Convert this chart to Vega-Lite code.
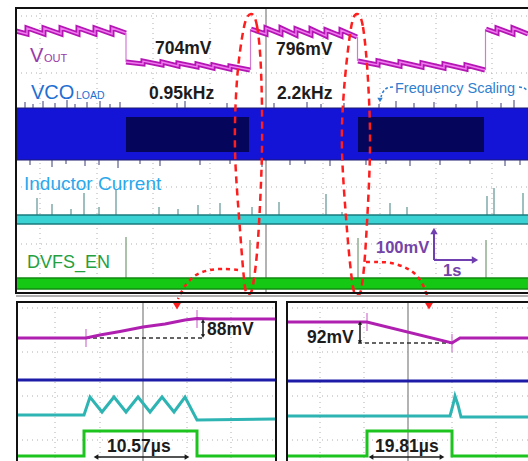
{
"$schema":"https://vega.github.io/schema/vega-lite/v6.json",
"width":528,"height":461,"padding":0,"autosize":{"type":"none"},
"background":"#ffffff",
"config":{"view":{"stroke":null}},
"datasets":{
"hgrid":[{"x":16,"x2":528,"y":16},{"x":16,"x2":528,"y":73},{"x":16,"x2":528,"y":187},{"x":16,"x2":528,"y":244},{"x":17,"x2":276,"y":308},{"x":17,"x2":276,"y":352},{"x":17,"x2":276,"y":396},{"x":17,"x2":276,"y":440},{"x":287,"x2":528,"y":308},{"x":287,"x2":528,"y":352},{"x":287,"x2":528,"y":396},{"x":287,"x2":528,"y":440}],
"vgrid":[{"x":40,"y":8,"y2":293},{"x":97,"y":8,"y2":293},{"x":153,"y":8,"y2":293},{"x":210,"y":8,"y2":293},{"x":323,"y":8,"y2":293},{"x":380,"y":8,"y2":293},{"x":436,"y":8,"y2":293},{"x":492,"y":8,"y2":293},{"x":55,"y":302,"y2":461},{"x":100,"y":302,"y2":461},{"x":187,"y":302,"y2":461},{"x":231,"y":302,"y2":461},{"x":320,"y":302,"y2":461},{"x":364,"y":302,"y2":461},{"x":452,"y":302,"y2":461},{"x":496,"y":302,"y2":461}],
"center":[{"x":266,"y":8,"y2":293},{"x":143,"y":302,"y2":461},{"x":408,"y":302,"y2":461}],
"vcoSpikes":[{"x":25,"y":102,"y2":108},{"x":33,"y":104,"y2":108},{"x":43,"y":101,"y2":108},{"x":55,"y":103,"y2":108},{"x":67,"y":100,"y2":108},{"x":75,"y":104,"y2":108},{"x":87,"y":102,"y2":108},{"x":100,"y":101,"y2":108},{"x":110,"y":104,"y2":108},{"x":120,"y":102,"y2":108},{"x":177,"y":103,"y2":108},{"x":185,"y":101,"y2":108},{"x":227,"y":103,"y2":108},{"x":274,"y":103,"y2":108},{"x":307,"y":102,"y2":108},{"x":321,"y":104,"y2":108},{"x":344,"y":103,"y2":108},{"x":379,"y":104,"y2":108},{"x":396,"y":101,"y2":108},{"x":414,"y":103,"y2":108},{"x":434,"y":102,"y2":108},{"x":456,"y":104,"y2":108},{"x":477,"y":101,"y2":108},{"x":501,"y":103,"y2":108},{"x":514,"y":100,"y2":108},{"x":30,"y":160,"y2":165},{"x":52,"y":160,"y2":167},{"x":66,"y":160,"y2":164},{"x":85,"y":160,"y2":166},{"x":99,"y":160,"y2":165},{"x":118,"y":160,"y2":168},{"x":140,"y":160,"y2":164},{"x":160,"y":160,"y2":166},{"x":200,"y":160,"y2":165},{"x":230,"y":160,"y2":164},{"x":262,"y":160,"y2":167},{"x":290,"y":160,"y2":165},{"x":305,"y":160,"y2":164},{"x":330,"y":160,"y2":166},{"x":366,"y":160,"y2":165},{"x":386,"y":160,"y2":164},{"x":410,"y":160,"y2":166},{"x":440,"y":160,"y2":165},{"x":470,"y":160,"y2":164},{"x":505,"y":160,"y2":166},{"x":520,"y":160,"y2":165}],
"indSpikes":[{"x":37,"y":198,"y2":215},{"x":52,"y":204,"y2":215},{"x":71,"y":209,"y2":215},{"x":84,"y":193,"y2":215},{"x":99,"y":207,"y2":215},{"x":116,"y":189,"y2":215},{"x":159,"y":207,"y2":215},{"x":178,"y":209,"y2":215},{"x":198,"y":205,"y2":215},{"x":220,"y":203,"y2":215},{"x":252,"y":207,"y2":215},{"x":279,"y":202,"y2":215},{"x":326,"y":194,"y2":215},{"x":342,"y":212,"y2":215},{"x":390,"y":203,"y2":215},{"x":407,"y":207,"y2":215},{"x":487,"y":196,"y2":215},{"x":494,"y":188,"y2":215},{"x":523,"y":193,"y2":215}],
"dvfsSpikes":[{"x":126,"y":237,"y2":278},{"x":250,"y":240,"y2":278},{"x":358,"y":238,"y2":278},{"x":486,"y":240,"y2":278}],
"vout":[
{"s":"A","i":1,"x":16,"y":31},{"s":"A","i":2,"x":27,"y":34},{"s":"A","i":3,"x":27,"y":28},{"s":"A","i":4,"x":44,"y":34},{"s":"A","i":5,"x":44,"y":28},{"s":"A","i":6,"x":61,"y":34},{"s":"A","i":7,"x":61,"y":28},{"s":"A","i":8,"x":78,"y":34},{"s":"A","i":9,"x":78,"y":28},{"s":"A","i":10,"x":95,"y":34},{"s":"A","i":11,"x":95,"y":28},{"s":"A","i":12,"x":112,"y":34},{"s":"A","i":13,"x":112,"y":28},{"s":"A","i":14,"x":126,"y":33},
{"s":"B","i":1,"x":126,"y":62},{"s":"B","i":2,"x":143,"y":64},{"s":"B","i":3,"x":143,"y":61},{"s":"B","i":4,"x":162,"y":65},{"s":"B","i":5,"x":162,"y":62},{"s":"B","i":6,"x":178,"y":66},{"s":"B","i":7,"x":178,"y":63},{"s":"B","i":8,"x":197,"y":67},{"s":"B","i":9,"x":197,"y":64},{"s":"B","i":10,"x":213,"y":68},{"s":"B","i":11,"x":213,"y":65},{"s":"B","i":12,"x":230,"y":69},{"s":"B","i":13,"x":230,"y":66},{"s":"B","i":14,"x":250,"y":70},
{"s":"C","i":1,"x":251,"y":29},{"s":"C","i":2,"x":266,"y":34},{"s":"C","i":3,"x":266,"y":28},{"s":"C","i":4,"x":281,"y":34},{"s":"C","i":5,"x":281,"y":28},{"s":"C","i":6,"x":296,"y":35},{"s":"C","i":7,"x":296,"y":29},{"s":"C","i":8,"x":311,"y":35},{"s":"C","i":9,"x":311,"y":29},{"s":"C","i":10,"x":326,"y":36},{"s":"C","i":11,"x":326,"y":30},{"s":"C","i":12,"x":341,"y":36},{"s":"C","i":13,"x":341,"y":30},{"s":"C","i":14,"x":357,"y":37},
{"s":"D","i":1,"x":358,"y":61},{"s":"D","i":2,"x":378,"y":65},{"s":"D","i":3,"x":378,"y":61},{"s":"D","i":4,"x":400,"y":66},{"s":"D","i":5,"x":400,"y":62},{"s":"D","i":6,"x":422,"y":67},{"s":"D","i":7,"x":422,"y":63},{"s":"D","i":8,"x":444,"y":68},{"s":"D","i":9,"x":444,"y":64},{"s":"D","i":10,"x":466,"y":69},{"s":"D","i":11,"x":466,"y":65},{"s":"D","i":12,"x":485,"y":70},
{"s":"E","i":1,"x":486,"y":29},{"s":"E","i":2,"x":497,"y":33},{"s":"E","i":3,"x":497,"y":28},{"s":"E","i":4,"x":513,"y":34},{"s":"E","i":5,"x":513,"y":28},{"s":"E","i":6,"x":528,"y":34}],
"voutSteps":[{"x":126,"y":33,"y2":62},{"x":250.5,"y":29,"y2":70},{"x":357.5,"y":37,"y2":61},{"x":485.5,"y":29,"y2":70}],
"bottom":[
{"s":"m1","i":1,"x":17,"y":338},{"s":"m1","i":2,"x":86,"y":338},{"s":"m1","i":3,"x":100,"y":335},{"s":"m1","i":4,"x":120,"y":331.5},{"s":"m1","i":5,"x":143,"y":327},{"s":"m1","i":6,"x":165,"y":324},{"s":"m1","i":7,"x":185,"y":320},{"s":"m1","i":8,"x":197,"y":318.5},{"s":"m1","i":9,"x":210,"y":319},{"s":"m1","i":10,"x":276,"y":319},
{"s":"b1","i":1,"x":17,"y":380},{"s":"b1","i":2,"x":276,"y":380},
{"s":"c1","i":1,"x":17,"y":415},{"s":"c1","i":2,"x":84,"y":415},{"s":"c1","i":3,"x":90,"y":397},{"s":"c1","i":4,"x":102,"y":412},{"s":"c1","i":5,"x":114,"y":397},{"s":"c1","i":6,"x":126,"y":412},{"s":"c1","i":7,"x":138,"y":397},{"s":"c1","i":8,"x":150,"y":412},{"s":"c1","i":9,"x":162,"y":397},{"s":"c1","i":10,"x":174,"y":412},{"s":"c1","i":11,"x":185,"y":397},{"s":"c1","i":12,"x":197,"y":420},{"s":"c1","i":13,"x":276,"y":419},
{"s":"g1","i":1,"x":17,"y":456},{"s":"g1","i":2,"x":84,"y":456},{"s":"g1","i":3,"x":84,"y":431},{"s":"g1","i":4,"x":197,"y":431},{"s":"g1","i":5,"x":197,"y":456},{"s":"g1","i":6,"x":276,"y":456},
{"s":"m2","i":1,"x":287,"y":322},{"s":"m2","i":2,"x":367,"y":322},{"s":"m2","i":3,"x":452,"y":343},{"s":"m2","i":4,"x":460,"y":338},{"s":"m2","i":5,"x":528,"y":338},
{"s":"b2","i":1,"x":287,"y":381},{"s":"b2","i":2,"x":528,"y":381},
{"s":"c2","i":1,"x":287,"y":416},{"s":"c2","i":2,"x":450,"y":416},{"s":"c2","i":3,"x":453,"y":405},{"s":"c2","i":4,"x":455,"y":396},{"s":"c2","i":5,"x":458,"y":405},{"s":"c2","i":6,"x":461,"y":417},{"s":"c2","i":7,"x":528,"y":417},
{"s":"g2","i":1,"x":287,"y":456},{"s":"g2","i":2,"x":367,"y":456},{"s":"g2","i":3,"x":367,"y":431},{"s":"g2","i":4,"x":452,"y":431},{"s":"g2","i":5,"x":452,"y":456},{"s":"g2","i":6,"x":528,"y":456}],
"cursorTicks":[{"x":86,"y":329,"y2":347},{"x":197,"y":310,"y2":328},{"x":367,"y":313,"y2":331},{"x":452,"y":334,"y2":352}],
"dashRef":[{"x":86,"x2":203,"y":338},{"x":358,"x2":452,"y":343}],
"dimLines":[{"x":203,"y":322,"x2":203,"y2":335},{"x":360,"y":324,"x2":360,"y2":341},{"x":97,"y":457,"x2":186,"y2":457},{"x":372,"y":457,"x2":441,"y2":457}],
"ovals":[
{"s":"o1","i":1,"x":251,"y":14},{"s":"o1","i":2,"x":257,"y":26},{"s":"o1","i":3,"x":261,"y":70},{"s":"o1","i":4,"x":262,"y":150},{"s":"o1","i":5,"x":258,"y":240},{"s":"o1","i":6,"x":253,"y":285},{"s":"o1","i":7,"x":249,"y":294},{"s":"o1","i":8,"x":245,"y":287},{"s":"o1","i":9,"x":240,"y":230},{"s":"o1","i":10,"x":235,"y":150},{"s":"o1","i":11,"x":237,"y":80},{"s":"o1","i":12,"x":244,"y":27},
{"s":"o2","i":1,"x":357,"y":14},{"s":"o2","i":2,"x":363,"y":27},{"s":"o2","i":3,"x":368,"y":80},{"s":"o2","i":4,"x":370,"y":150},{"s":"o2","i":5,"x":366,"y":240},{"s":"o2","i":6,"x":362,"y":285},{"s":"o2","i":7,"x":358,"y":295},{"s":"o2","i":8,"x":353,"y":287},{"s":"o2","i":9,"x":347,"y":230},{"s":"o2","i":10,"x":342,"y":150},{"s":"o2","i":11,"x":344,"y":90},{"s":"o2","i":12,"x":351,"y":28}],
"redCurves":[
{"s":"r1","i":1,"x":238,"y":270},{"s":"r1","i":2,"x":225,"y":269},{"s":"r1","i":3,"x":210,"y":270},{"s":"r1","i":4,"x":196,"y":275},{"s":"r1","i":5,"x":185,"y":286},{"s":"r1","i":6,"x":178,"y":299},
{"s":"r2","i":1,"x":366,"y":262},{"s":"r2","i":2,"x":378,"y":262},{"s":"r2","i":3,"x":391,"y":263},{"s":"r2","i":4,"x":404,"y":267},{"s":"r2","i":5,"x":414,"y":273},{"s":"r2","i":6,"x":422,"y":283},{"s":"r2","i":7,"x":428,"y":298}],
"redHeads":[{"x":177,"y":306},{"x":429,"y":306}],
"blueCurves":[
{"s":"f1","i":1,"x":393,"y":87},{"s":"f1","i":2,"x":387,"y":88},{"s":"f1","i":3,"x":383,"y":92},{"s":"f1","i":4,"x":381,"y":97},
{"s":"f2","i":1,"x":519,"y":87},{"s":"f2","i":2,"x":524,"y":88},{"s":"f2","i":3,"x":528,"y":91}],
"frames":[{"x":16,"y":8,"x2":545,"y2":293},{"x":17,"y":302,"x2":276,"y2":480},{"x":287,"y":302,"x2":545,"y2":480}]
},
"encoding":{
"x":{"field":"x","type":"quantitative","scale":{"domain":[0,528],"nice":false,"zero":false},"axis":null},
"y":{"field":"y","type":"quantitative","scale":{"domain":[0,461],"reverse":true,"nice":false,"zero":false},"axis":null}
},
"layer":[
{"data":{"name":"hgrid"},"mark":{"type":"rule","color":"#b0b0b0","strokeWidth":1,"strokeDash":[1,4]},"encoding":{"x2":{"field":"x2"}}},
{"data":{"name":"vgrid"},"mark":{"type":"rule","color":"#b0b0b0","strokeWidth":1,"strokeDash":[1,4]},"encoding":{"y2":{"field":"y2"}}},
{"data":{"name":"center"},"mark":{"type":"rule","color":"#9a9a9a","strokeWidth":1.5},"encoding":{"y2":{"field":"y2"}}},
{"data":{"values":[{"x":16,"x2":528,"y":108,"y2":160}]},"mark":{"type":"rect","color":"#1414d6"},"encoding":{"x2":{"field":"x2"},"y2":{"field":"y2"}}},
{"data":{"values":[{"x":126,"x2":249,"y":117,"y2":152},{"x":358,"x2":484,"y":117,"y2":152}]},"mark":{"type":"rect","color":"#05055c"},"encoding":{"x2":{"field":"x2"},"y2":{"field":"y2"}}},
{"data":{"values":[{"x":16,"x2":528,"y":108},{"x":16,"x2":528,"y":160}]},"mark":{"type":"rule","color":"#1a1a70","strokeWidth":1.2},"encoding":{"x2":{"field":"x2"}}},
{"data":{"name":"vcoSpikes"},"mark":{"type":"rule","color":"#3a3a78","strokeWidth":1},"encoding":{"y2":{"field":"y2"}}},
{"data":{"name":"indSpikes"},"mark":{"type":"rule","color":"#7fa8a8","strokeWidth":1.5},"encoding":{"y2":{"field":"y2"}}},
{"data":{"name":"dvfsSpikes"},"mark":{"type":"rule","color":"#8fae8f","strokeWidth":1.5},"encoding":{"y2":{"field":"y2"}}},
{"data":{"values":[{"x":16,"x2":528,"y":215,"y2":224}]},"mark":{"type":"rect","color":"#3ad2d2"},"encoding":{"x2":{"field":"x2"},"y2":{"field":"y2"}}},
{"data":{"values":[{"x":16,"x2":528,"y":215},{"x":16,"x2":528,"y":224}]},"mark":{"type":"rule","color":"#1a7a7c","strokeWidth":1.5},"encoding":{"x2":{"field":"x2"}}},
{"data":{"values":[{"x":16,"x2":528,"y":278,"y2":289}]},"mark":{"type":"rect","color":"#14c814"},"encoding":{"x2":{"field":"x2"},"y2":{"field":"y2"}}},
{"data":{"values":[{"x":16,"x2":528,"y":278},{"x":16,"x2":528,"y":289}]},"mark":{"type":"rule","color":"#128a12","strokeWidth":1.5},"encoding":{"x2":{"field":"x2"}}},
{"data":{"name":"voutSteps"},"mark":{"type":"rule","color":"#d27ad2","strokeWidth":1.2},"encoding":{"y2":{"field":"y2"}}},
{"data":{"name":"vout"},"mark":{"type":"line","color":"#b416b4","strokeWidth":5},"encoding":{"detail":{"field":"s"},"order":{"field":"i","type":"quantitative"}}},
{"data":{"name":"vout"},"mark":{"type":"line","color":"#f07af0","strokeWidth":1.4},"encoding":{"detail":{"field":"s"},"order":{"field":"i","type":"quantitative"}}},
{"data":{"name":"dashRef"},"mark":{"type":"rule","color":"#333333","strokeWidth":1.5,"strokeDash":[4,3]},"encoding":{"x2":{"field":"x2"}}},
{"data":{"name":"cursorTicks"},"mark":{"type":"rule","color":"#d890d8","strokeWidth":1.5},"encoding":{"y2":{"field":"y2"}}},
{"data":{"name":"bottom"},"mark":{"type":"line","strokeWidth":3},"encoding":{"detail":{"field":"s"},"order":{"field":"i","type":"quantitative"},"color":{"field":"s","type":"nominal","legend":null,"scale":{"domain":["m1","b1","c1","g1","m2","b2","c2","g2"],"range":["#b020b0","#1c1ca8","#2fb4b4","#1ec41e","#b020b0","#1c1ca8","#2fb4b4","#1ec41e"]}}}},
{"data":{"name":"dimLines"},"mark":{"type":"rule","color":"#1a1a1a","strokeWidth":1.5},"encoding":{"x2":{"field":"x2"},"y2":{"field":"y2"}}},
{"data":{"values":[{"x":203,"y":321},{"x":360,"y":323}]},"mark":{"type":"point","shape":"triangle-up","filled":true,"color":"#1a1a1a","size":18,"opacity":1}},
{"data":{"values":[{"x":203,"y":336},{"x":360,"y":342}]},"mark":{"type":"point","shape":"triangle-down","filled":true,"color":"#1a1a1a","size":18,"opacity":1}},
{"data":{"values":[{"x":96,"y":457},{"x":371,"y":457}]},"mark":{"type":"point","shape":"triangle-left","filled":true,"color":"#1a1a1a","size":30,"opacity":1}},
{"data":{"values":[{"x":187,"y":457},{"x":442,"y":457}]},"mark":{"type":"point","shape":"triangle-right","filled":true,"color":"#1a1a1a","size":30,"opacity":1}},
{"data":{"values":[{"x":30,"y":62,"t":"V"}]},"mark":{"type":"text","align":"left","baseline":"alphabetic","font":"Liberation Sans","fontSize":20,"color":"#9a3aa8"},"encoding":{"text":{"field":"t"}}},
{"data":{"values":[{"x":44,"y":62,"t":"OUT"}]},"mark":{"type":"text","align":"left","baseline":"alphabetic","font":"Liberation Sans","fontSize":11,"color":"#9a3aa8"},"encoding":{"text":{"field":"t"}}},
{"data":{"values":[{"x":31,"y":99,"t":"VCO"}]},"mark":{"type":"text","align":"left","baseline":"alphabetic","font":"Liberation Sans","fontSize":20,"color":"#1f6fd2"},"encoding":{"text":{"field":"t"}}},
{"data":{"values":[{"x":76,"y":99,"t":"LOAD"}]},"mark":{"type":"text","align":"left","baseline":"alphabetic","font":"Liberation Sans","fontSize":10.5,"color":"#1f6fd2"},"encoding":{"text":{"field":"t"}}},
{"data":{"values":[{"x":24,"y":190,"t":"Inductor Current"}]},"mark":{"type":"text","align":"left","baseline":"alphabetic","font":"Liberation Sans","fontSize":19,"color":"#2aa8ec"},"encoding":{"text":{"field":"t"}}},
{"data":{"values":[{"x":27,"y":268,"t":"DVFS_EN"}]},"mark":{"type":"text","align":"left","baseline":"alphabetic","font":"Liberation Sans","fontSize":18,"color":"#24a040"},"encoding":{"text":{"field":"t"}}},
{"data":{"values":[{"x":155,"y":54,"t":"704mV"},{"x":149,"y":99,"t":"0.95kHz"},{"x":276,"y":55,"t":"796mV"},{"x":277,"y":99,"t":"2.2kHz"},{"x":207,"y":335,"t":"88mV"},{"x":307,"y":343,"t":"92mV"},{"x":107,"y":452,"t":"10.57µs"},{"x":375,"y":452,"t":"19.81µs"}]},"mark":{"type":"text","align":"left","baseline":"alphabetic","font":"Liberation Sans","fontSize":17.5,"fontWeight":"bold","color":"#1c1c1c"},"encoding":{"text":{"field":"t"}}},
{"data":{"values":[{"x":395,"y":93,"t":"Frequency Scaling"}]},"mark":{"type":"text","align":"left","baseline":"alphabetic","font":"Liberation Sans","fontSize":14.5,"color":"#2f7fd0"},"encoding":{"text":{"field":"t"}}},
{"data":{"values":[{"x":376,"y":253,"t":"100mV"},{"x":443,"y":276,"t":"1s"}]},"mark":{"type":"text","align":"left","baseline":"alphabetic","font":"Liberation Sans","fontSize":16.5,"fontWeight":"bold","color":"#7444a8"},"encoding":{"text":{"field":"t"}}},
{"data":{"values":[{"x":434,"y":234,"x2":434,"y2":260},{"x":434,"y":260,"x2":472,"y2":260}]},"mark":{"type":"rule","color":"#7040b0","strokeWidth":2},"encoding":{"x2":{"field":"x2"},"y2":{"field":"y2"}}},
{"data":{"values":[{"x":434,"y":231}]},"mark":{"type":"point","shape":"triangle-up","filled":true,"color":"#7040b0","size":55,"opacity":1}},
{"data":{"values":[{"x":475,"y":260}]},"mark":{"type":"point","shape":"triangle-right","filled":true,"color":"#7040b0","size":55,"opacity":1}},
{"data":{"name":"blueCurves"},"mark":{"type":"line","interpolate":"cardinal","color":"#2f7fd0","strokeWidth":1.5,"strokeDash":[3,2]},"encoding":{"detail":{"field":"s"},"order":{"field":"i","type":"quantitative"}}},
{"data":{"values":[{"x":380,"y":100}]},"mark":{"type":"point","shape":"triangle-down","filled":true,"color":"#2f7fd0","size":30,"opacity":1}},
{"data":{"name":"ovals"},"mark":{"type":"line","interpolate":"cardinal-closed","color":"#ff1e1e","strokeWidth":2.5,"strokeDash":[7,5]},"encoding":{"detail":{"field":"s"},"order":{"field":"i","type":"quantitative"}}},
{"data":{"name":"redCurves"},"mark":{"type":"line","interpolate":"cardinal","color":"#ff1e1e","strokeWidth":2.5,"strokeDash":[4,4]},"encoding":{"detail":{"field":"s"},"order":{"field":"i","type":"quantitative"}}},
{"data":{"name":"redHeads"},"mark":{"type":"point","shape":"triangle-down","filled":true,"color":"#ff1e1e","size":70,"opacity":1}},
{"data":{"values":[{"x":16,"x2":545,"y":296}]},"mark":{"type":"rule","color":"#b0b0b0","strokeWidth":2},"encoding":{"x2":{"field":"x2"}}},
{"data":{"name":"frames"},"mark":{"type":"rect","filled":false,"stroke":"#111111","strokeWidth":2},"encoding":{"x2":{"field":"x2"},"y2":{"field":"y2"}}}
]
}
